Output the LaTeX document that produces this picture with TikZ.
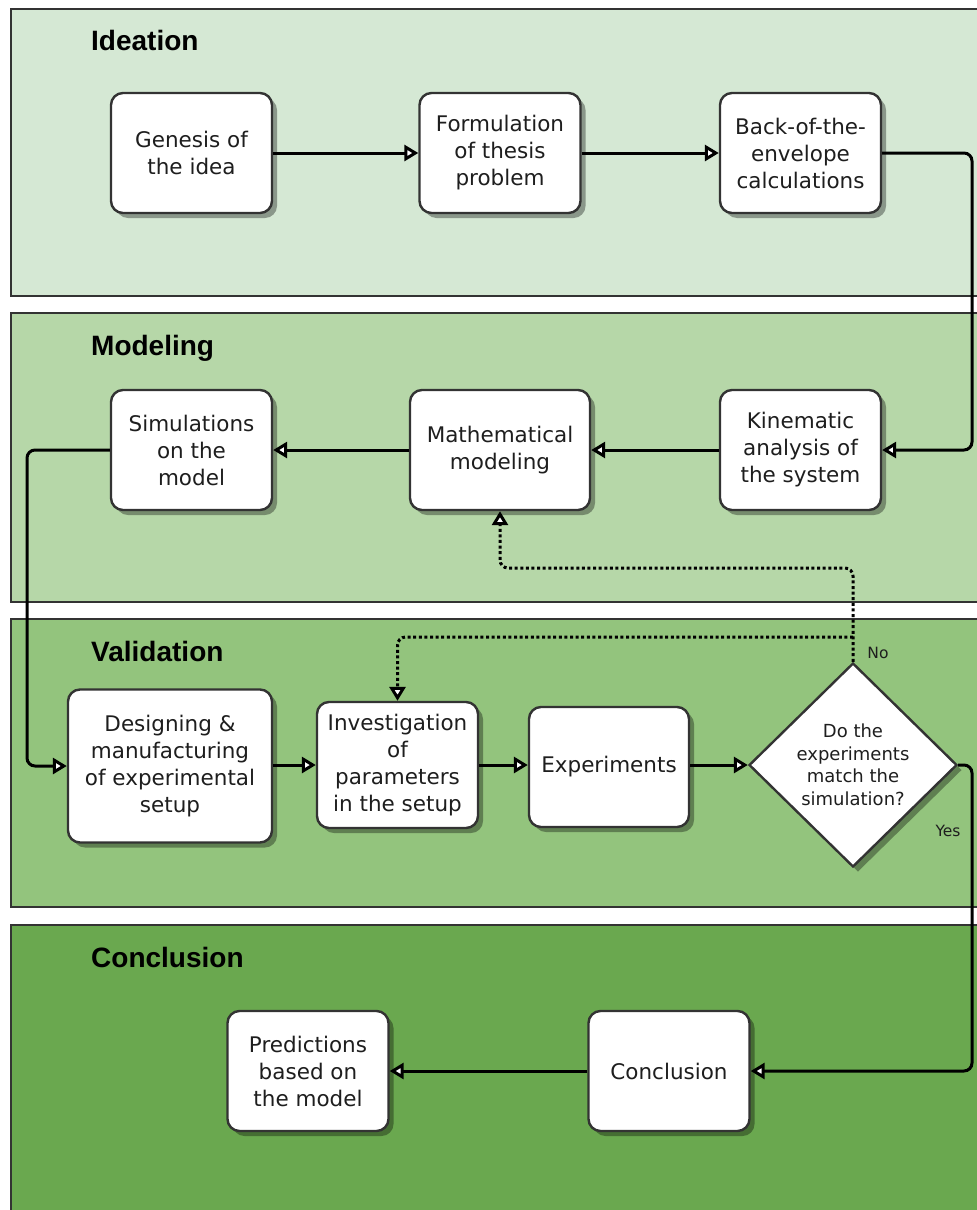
\documentclass[tikz,border=0pt]{standalone}
\usepackage{fontspec}
\usetikzlibrary{arrows.meta,shapes.geometric,shadows}
\newfontfamily\dejavu{DejaVu Sans}
\newfontfamily\libsans{Liberation Sans}
\definecolor{laneA}{HTML}{D5E8D4}
\definecolor{laneB}{HTML}{B6D7A8}
\definecolor{laneC}{HTML}{93C47D}
\definecolor{laneD}{HTML}{6AA84F}
\definecolor{edgegray}{HTML}{333333}
\definecolor{inkc}{HTML}{1E1E1E}
\begin{document}
\begin{tikzpicture}[x=1pt,y=-1pt,
  lane/.style={draw=edgegray,line width=2.8pt},
  hdr/.style={anchor=base west,inner sep=0pt,font=\libsans\bfseries\fontsize{28}{32}\selectfont,text=black},
  boxshadow/.style={drop shadow={shadow xshift=5pt,shadow yshift=-5pt,opacity=0.35,fill=black}},
  stepbox/.style={draw=edgegray,line width=2.4pt,fill=white,rounded corners=12pt,align=center,text=inkc,
    font=\dejavu\fontsize{21.5}{27}\selectfont,inner sep=3pt,boxshadow,
    execute at begin node={\vspace*{7pt}}},
  decision/.style={diamond,aspect=1,draw=edgegray,line width=2.4pt,fill=white,minimum width=208pt,
    minimum height=204pt,inner sep=0pt,align=center,text=inkc,font=\dejavu\fontsize{18}{22.5}\selectfont,boxshadow,
    execute at begin node={\vspace*{8pt}}},
  flow/.style={draw=black,line width=3pt,rounded corners=8pt,-{Triangle[length=14pt,width=16pt,fill=white]}},
  loop/.style={flow,dash pattern=on 3pt off 2.6pt},
  lbl/.style={inner sep=0pt,text=inkc,font=\dejavu\fontsize{15.5}{18}\selectfont}
]
\useasboundingbox (0,0) rectangle (977,1210);
\clip (0,0) rectangle (977,1210);

% lanes
\draw[lane,fill=laneA] (11,9) rectangle (1000,296);
\draw[lane,fill=laneB] (11,313) rectangle (1000,602);
\draw[lane,fill=laneC] (11,619) rectangle (1000,907);
\draw[lane,fill=laneD] (11,925) rectangle (1000,1240);

\node[hdr] (hIdeation) at (91,50) {Ideation};
\node[hdr] (hModeling) at (91,355) {Modeling};
\node[hdr] (hValidation) at (91,661) {Validation};
\node[hdr] (hConclusion) at (91,967) {Conclusion};

% helper coordinates
\coordinate (rr) at (972,0);
\coordinate (ll) at (27,0);
\coordinate (up) at (0,568);
\coordinate (lo) at (0,637);

% nodes
\node[stepbox,minimum width=161pt,minimum height=120pt] (genesis) at (191.5,153) {Genesis of\\the idea};
\node[stepbox,minimum width=161pt,minimum height=120pt] (formul) at (500,153) {Formulation\\of thesis\\problem};
\node[stepbox,minimum width=161pt,minimum height=120pt] (back) at (800.5,153) {Back-of-the-\\envelope\\calculations};

\node[stepbox,minimum width=161pt,minimum height=120pt] (sim) at (191.5,450) {Simulations\\on the\\model};
\node[stepbox,minimum width=180pt,minimum height=120pt] (math) at (500,450) {Mathematical\\modeling};
\node[stepbox,minimum width=161pt,minimum height=120pt] (kin) at (800.5,450) {Kinematic\\analysis of\\the system};

\node[stepbox,minimum width=204pt,minimum height=153pt] (design) at (170,766) {Designing \&\\manufacturing\\of experimental\\setup};
\node[stepbox,minimum width=161pt,minimum height=126pt] (inv) at (397.5,765) {Investigation\\of\\parameters\\in the setup};
\node[stepbox,minimum width=160pt,minimum height=120pt] (exp) at (609,767) {Experiments};
\node[decision] (dec) at (853,765) {Do the\\experiments\\match the\\simulation?};

\node[stepbox,minimum width=161pt,minimum height=120pt] (concl) at (669,1071) {Conclusion};
\node[stepbox,minimum width=161pt,minimum height=120pt] (pred) at (308,1071) {Predictions\\based on\\the model};

\node[lbl] (no) at (878,653) {No};
\node[lbl] (yes) at (948,831) {Yes};

% connectors
\draw[flow] (genesis) -- (formul);
\draw[flow] (formul) -- (back);
\draw[flow] (back.east) -- (back.east -| rr) |- (kin.east);
\draw[flow] (kin) -- (math);
\draw[flow] (math) -- (sim);
\draw[flow] (sim.west) -- (sim.west -| ll) |- (design.west);
\draw[flow] (design.east |- inv.west) -- (inv.west);
\draw[flow] (inv.east) -- (inv.east -| exp.west);
\draw[flow] (exp.east |- dec.west) -- (dec.west);
\draw[flow] (dec.east) -- (dec.east -| rr) |- (concl.east);
\draw[flow] (concl) -- (pred);
\draw[loop] (dec.north) -- (dec.north |- up) -| (math.south);
\draw[loop] (dec.north |- lo) -| (inv.north);
\end{tikzpicture}
\end{document}
